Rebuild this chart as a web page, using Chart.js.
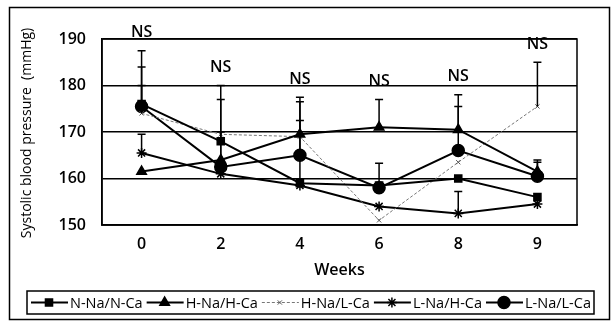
<!DOCTYPE html>
<html>
<head>
<meta charset="utf-8">
<script src="https://cdn.jsdelivr.net/npm/chart.js@4"></script>
<style>
  html, body { margin: 0; padding: 0; background: #fff; }
  #wrap { width: 614px; height: 323px; }
</style>
</head>
<body>
<div id="wrap"><canvas id="bpChart" width="614" height="323"></canvas></div>
<script>
// --- Datos ---
const weeks = ['0', '2', '4', '6', '8', '9'];
const yTicks = [150, 160, 170, 180, 190];

const seriesNames = ['N-Na/N-Ca', 'H-Na/H-Ca', 'H-Na/L-Ca', 'L-Na/H-Ca', 'L-Na/L-Ca'];

const nNaNCa = [176, 168, 159, 158.5, 160, 156];
const hNaHCa = [161.5, 164, 169.5, 171, 170.5, 161.5];
const hNaLCa = [174, 169.5, 169, 151, 163.5, 175.5];
const lNaHCa = [165.5, 161, 158.5, 154, 152.5, 154.5];
const lNaLCa = [175.5, 162.5, 165, 158, 166, 160.5];

// desviacion (solo barra superior)
const nNaNCaSD = [8, 12, null, 4.8, null, null];
const hNaHCaSD = [null, 6, 8, 6, 7.5, 2.5];
const hNaLCaSD = [6, null, null, null, null, 9.5];
const lNaHCaSD = [4, null, 14, null, 4.7, null];
const lNaLCaSD = [12, 14.5, 11.5, null, 9.5, 3];

const nsLabels = ['NS', 'NS', 'NS', 'NS', 'NS', 'NS'];

const FONT = "'Open Sans', 'DejaVu Sans', sans-serif";

const sdList = [nNaNCaSD, hNaHCaSD, hNaLCaSD, lNaHCaSD, lNaLCaSD];

// --- Plugin: marco, barras de error, NS, titulos y leyenda ---
const extras = {
  id: 'extras',
  beforeDraw(chart) {
    const ctx = chart.ctx;
    ctx.save();
    ctx.fillStyle = '#fff';
    ctx.fillRect(0, 0, chart.width, chart.height);
    ctx.restore();
  },
  afterDatasetsDraw(chart) {
    const ctx = chart.ctx;
    const xs = chart.scales.x;
    const ys = chart.scales.y;
    ctx.save();
    ctx.strokeStyle = '#000';
    ctx.lineWidth = 1.5;
    const tops = weeks.map(() => -Infinity);
    chart.data.datasets.forEach((ds, i) => {
      const sd = sdList[i];
      ds.data.forEach((v, j) => {
        if (sd[j] == null) return;
        const x = xs.getPixelForValue(j);
        const y0 = ys.getPixelForValue(v);
        const y1 = ys.getPixelForValue(v + sd[j]);
        ctx.beginPath();
        ctx.moveTo(x, y0);
        ctx.lineTo(x, y1);
        ctx.moveTo(x - 4, y1);
        ctx.lineTo(x + 4, y1);
        ctx.stroke();
        tops[j] = Math.max(tops[j], v + sd[j]);
      });
    });
    // NS encima de cada semana
    ctx.fillStyle = '#000';
    ctx.font = '600 16px ' + FONT;
    ctx.textAlign = 'center';
    ctx.textBaseline = 'middle';
    nsLabels.forEach((t, j) => {
      const x = xs.getPixelForValue(j);
      const y = ys.getPixelForValue(tops[j]) - 18;
      ctx.fillText(t, x, y);
    });
    ctx.restore();
  },
  afterDraw(chart) {
    const ctx = chart.ctx;
    const a = chart.chartArea;
    ctx.save();
    ctx.strokeStyle = '#000';
    // borde del area de trazado
    ctx.lineWidth = 1.5;
    ctx.strokeRect(a.left, a.top, a.right - a.left, a.bottom - a.top);
    // marco exterior
    ctx.strokeRect(9.5, 7.5, 600, 312);

    // titulo eje Y
    ctx.fillStyle = '#000';
    ctx.font = '500 14px ' + FONT;
    ctx.textAlign = 'center';
    ctx.textBaseline = 'middle';
    ctx.save();
    ctx.translate(27, 133);
    ctx.rotate(-Math.PI / 2);
    ctx.fillText('Systolic blood pressure  (mmHg)', 0, 0);
    ctx.restore();

    // titulo eje X
    ctx.font = '600 16px ' + FONT;
    ctx.fillText('Weeks', (a.left + a.right) / 2, 270);

    // leyenda
    const bx = 27, by = 291, bw = 567, bh = 23;
    ctx.lineWidth = 1.5;
    ctx.strokeRect(bx, by, bw, bh);
    ctx.font = '14.5px ' + FONT;
    ctx.textAlign = 'left';
    const cy = by + bh / 2;
    let x = bx + 4;
    chart.data.datasets.forEach((ds) => {
      ctx.save();
      ctx.strokeStyle = ds.borderColor;
      ctx.lineWidth = ds.borderWidth;
      ctx.setLineDash(ds.borderDash || []);
      ctx.beginPath();
      ctx.moveTo(x, cy);
      ctx.lineTo(x + 37, cy);
      ctx.stroke();
      ctx.setLineDash([]);
      ctx.fillStyle = ds.pointBackgroundColor;
      ctx.strokeStyle = ds.pointBorderColor;
      ctx.lineWidth = ds.pointBorderWidth;
      if (Chart.helpers && Chart.helpers.drawPoint) {
        Chart.helpers.drawPoint(ctx, {
          pointStyle: ds.pointStyle,
          radius: ds.pointRadius,
          rotation: 0,
          borderWidth: ds.pointBorderWidth
        }, x + 18, cy);
      }
      ctx.restore();
      ctx.fillStyle = '#000';
      ctx.fillText(ds.label, x + 39, cy + 1);
      x += 39 + ctx.measureText(ds.label).width + 4;
    });
    ctx.restore();
  }
};

function serie(label, data, style, radius, extra) {
  return Object.assign({
    label: label,
    data: data,
    borderColor: '#000',
    borderWidth: 2,
    pointStyle: style,
    pointRadius: radius,
    pointBackgroundColor: '#000',
    pointBorderColor: '#000',
    pointBorderWidth: 1.5,
    tension: 0,
    fill: false
  }, extra || {});
}

const ctx = document.getElementById('bpChart').getContext('2d');
new Chart(ctx, {
  type: 'line',
  data: {
    labels: weeks,
    datasets: [
      serie(seriesNames[0], nNaNCa, 'rect', 5),
      serie(seriesNames[1], hNaHCa, 'triangle', 5.5),
      serie(seriesNames[2], hNaLCa, 'crossRot', 3, {
        borderColor: '#777', borderWidth: 1, borderDash: [3, 2],
        pointBorderColor: '#555', pointBackgroundColor: '#555', pointBorderWidth: 1
      }),
      serie(seriesNames[3], lNaHCa, 'star', 5),
      serie(seriesNames[4], lNaLCa, 'circle', 6)
    ]
  },
  options: {
    responsive: false,
    animation: false,
    layout: { padding: { left: 0, right: 37, top: 39, bottom: 44 } },
    scales: {
      x: {
        type: 'category',
        offset: true,
        grid: { display: false, drawTicks: false },
        border: { display: true, color: '#000', width: 1.5 },
        ticks: { color: '#000', font: { family: FONT, size: 16, weight: '600' }, padding: 10 },
        afterFit: (s) => { s.height = 54; }
      },
      y: {
        min: yTicks[0],
        max: yTicks[yTicks.length - 1],
        afterBuildTicks: (s) => { s.ticks = yTicks.map(v => ({ value: v })); },
        grid: { color: '#000', lineWidth: 1.5, drawTicks: false },
        border: { display: true, color: '#000', width: 1.5 },
        ticks: { color: '#000', font: { family: FONT, size: 16, weight: '600' }, padding: 16 },
        afterFit: (s) => { s.width = 102; }
      }
    },
    plugins: {
      legend: { display: false },
      tooltip: { enabled: false }
    }
  },
  plugins: [extras]
});
</script>
</body>
</html>
